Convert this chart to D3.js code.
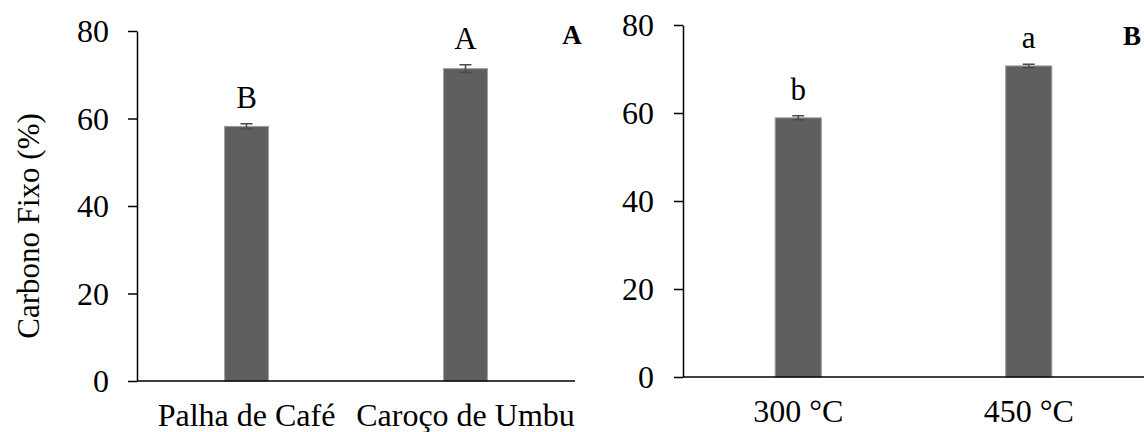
<!DOCTYPE html>
<html>
<head>
<meta charset="utf-8">
<script src="https://cdn.jsdelivr.net/npm/d3@7"></script>
<style>
  body { margin: 0; background: #fff; }
  text { font-family: 'Liberation Serif', 'Times New Roman', serif; fill: #000; }
  .domain, .tick line { stroke: #000; }
</style>
</head>
<body>
<script>
const WIDTH = 1144;
const HEIGHT = 432;

const yTicks = [0, 20, 40, 60, 80];

const catsA = ['Palha de Café', 'Caroço de Umbu'];
const valsA = [58.2, 71.4];
const errA = [0.6, 0.9];
const lettersA = ['B', 'A'];

const catsB = ['300 °C', '450 °C'];
const valsB = [58.9, 70.7];
const errB = [0.45, 0.4];
const lettersB = ['b', 'a'];

const svg = d3
  .select('body')
  .append('svg')
  .attr('width', WIDTH)
  .attr('height', HEIGHT);

function drawPanel(opts) {
  const rows = opts.cats.map((c, i) => ({
    cat: c,
    val: opts.vals[i],
    err: opts.errs[i],
    letter: opts.letters[i],
  }));

  const x = d3
    .scaleBand()
    .domain(opts.cats)
    .range([opts.left, opts.right])
    .paddingInner(0.8)
    .paddingOuter(0.4);

  const y = d3.scaleLinear().domain([0, 80]).range([opts.bottom, opts.top]);

  const g = svg.append('g');

  // bars
  g.selectAll('.bar')
    .data(rows)
    .join('rect')
    .attr('class', 'bar')
    .attr('x', (d) => x(d.cat))
    .attr('y', (d) => y(d.val))
    .attr('width', x.bandwidth())
    .attr('height', (d) => y(0) - y(d.val))
    .attr('fill', '#5f5f5f')
    .attr('stroke', '#9d9d9d')
    .attr('stroke-width', 1);

  // error bars
  const cx = (d) => x(d.cat) + x.bandwidth() / 2;
  g.selectAll('.err')
    .data(rows)
    .join('path')
    .attr('class', 'err')
    .attr('d', (d) => {
      const t = y(d.val + d.err), b = y(d.val - d.err);
      return `M${cx(d) - 6},${t}H${cx(d) + 6}M${cx(d)},${t}V${b}M${cx(d) - 6},${b}H${cx(d) + 6}`;
    })
    .attr('stroke', '#4a4a4a')
    .attr('stroke-width', 1.5)
    .attr('fill', 'none');

  // significance letters
  g.selectAll('.letter')
    .data(rows)
    .join('text')
    .attr('class', 'letter')
    .attr('x', cx)
    .attr('y', (d) => y(d.val + d.err) - 16)
    .attr('text-anchor', 'middle')
    .style('font-size', '31px')
    .text((d) => d.letter);

  // y axis
  g.append('g')
    .attr('transform', `translate(${opts.left},0)`)
    .call(d3.axisLeft(y).tickValues(yTicks).tickSize(9).tickSizeOuter(0).tickPadding(opts.tickPad))
    .call((a) => a.selectAll('.tick text').style('font-size', '32px').attr('dy', '0.34em'))
    .call((a) => a.selectAll('path, line').attr('stroke-width', 1.5));

  // x axis (line only)
  g.append('line')
    .attr('x1', opts.left)
    .attr('x2', opts.right)
    .attr('y1', y(0))
    .attr('y2', y(0))
    .attr('stroke', '#000')
    .attr('stroke-width', 1.5);

  g.selectAll('.cat')
    .data(rows)
    .join('text')
    .attr('class', 'cat')
    .attr('x', cx)
    .attr('y', opts.labelY)
    .attr('text-anchor', 'middle')
    .style('font-size', '32px')
    .text((d) => d.cat);

  g.append('text')
    .attr('x', opts.tagX)
    .attr('y', opts.tagY)
    .attr('text-anchor', 'middle')
    .style('font-size', '27px')
    .style('font-weight', 'bold')
    .text(opts.tag);
}

drawPanel({
  cats: catsA, vals: valsA, errs: errA, letters: lettersA,
  left: 137, right: 575, top: 31, bottom: 381, tickPad: 19,
  labelY: 426, tag: 'A', tagX: 572, tagY: 44,
});

drawPanel({
  cats: catsB, vals: valsB, errs: errB, letters: lettersB,
  left: 683, right: 1144, top: 25, bottom: 377, tickPad: 20,
  labelY: 422, tag: 'B', tagX: 1132, tagY: 45,
});

svg.append('text')
  .attr('transform', 'translate(39,226) rotate(-90)')
  .attr('text-anchor', 'middle')
  .style('font-size', '31px')
  .text('Carbono Fixo (%)');
</script>
</body>
</html>
